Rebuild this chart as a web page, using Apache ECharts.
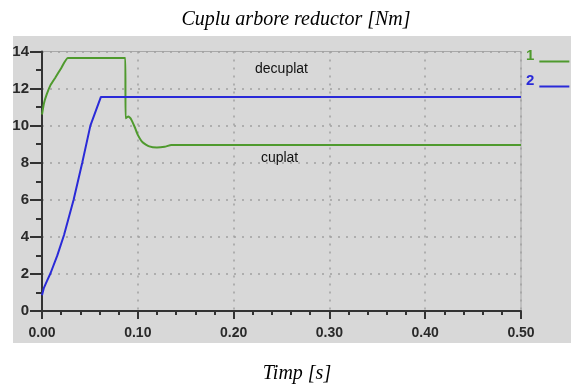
<!DOCTYPE html>
<html>
<head>
<meta charset="utf-8">
<script src="https://cdn.jsdelivr.net/npm/echarts@6/dist/echarts.min.js"></script>
<style>html,body{margin:0;padding:0;background:#fff;}#c{width:571px;height:388px;}</style>
</head>
<body>
<div id="c"></div>
<script>
// time [s] and torque [Nm]
const time1 = [0, 0.002, 0.005, 0.009, 0.014, 0.020, 0.027, 0.087, 0.0872, 0.090, 0.093, 0.097, 0.100, 0.105, 0.112, 0.120, 0.128, 0.135, 0.50];
const torque1 = [10.6, 11.2, 11.7, 12.2, 12.6, 13.1, 13.65, 13.65, 10.4, 10.5, 10.35, 9.9, 9.5, 9.1, 8.88, 8.82, 8.86, 8.95, 8.95];
const time2 = [0, 0.002, 0.005, 0.009, 0.016, 0.023, 0.033, 0.042, 0.0505, 0.0615, 0.50];
const torque2 = [0.85, 1.25, 1.6, 2.05, 3.0, 4.1, 6.0, 8.0, 10.0, 11.55, 11.55];
const seriesNames = ['1', '2'];
const xTicks = [0, 0.1, 0.2, 0.3, 0.4, 0.5];
const yTicks = [0, 2, 4, 6, 8, 10, 12, 14];
const notes = [{text: 'decuplat', t: 0.250, v: 13.03}, {text: 'cuplat', t: 0.248, v: 8.24}];

const zip = (a, b) => a.map((x, i) => [x, b[i]]);
const chart = echarts.init(document.getElementById('c'));
const labelFont = {fontFamily: 'Liberation Sans', fontWeight: 'bold', color: '#2a2a2a'};
const legendIcon = 'path://M0,0L0.01,0L0.01,0.01Z M0,12L30,12L30,14L0,14Z';
chart.setOption({
  animation: false,
  backgroundColor: '#ffffff',
  title: [
    {text: 'Cuplu arbore reductor [Nm]', left: 291, top: 5, textAlign: 'center',
     textStyle: {fontFamily: 'Liberation Serif', fontStyle: 'italic', fontWeight: 'normal', fontSize: 20, color: '#000'}},
    {text: 'Timp [s]', left: 292, top: 359, textAlign: 'center',
     textStyle: {fontFamily: 'Liberation Serif', fontStyle: 'italic', fontWeight: 'normal', fontSize: 20, color: '#000'}}
  ],
  graphic: [{type: 'rect', z: -10, shape: {x: 13, y: 36, width: 558, height: 307}, style: {fill: '#d8d8d8'}}],
  grid: {left: 42, right: 50, top: 51.5, bottom: 77, show: true, borderColor: '#a8a8a8', borderWidth: 1, backgroundColor: 'transparent'},
  legend: {
    orient: 'vertical', left: 526, top: 48, align: 'right', itemWidth: 30, itemHeight: 14, itemGap: 10,
    icon: legendIcon, padding: 0,
    data: seriesNames.map((n, i) => ({name: n, icon: legendIcon, textStyle: {color: i ? '#2a2ad8' : '#4f9a2e', fontFamily: 'Liberation Sans', fontWeight: 'bold', fontSize: 15}}))
  },
  xAxis: {
    type: 'value', min: xTicks[0], max: xTicks[xTicks.length - 1], interval: 0.1,
    axisLine: {lineStyle: {color: '#333', width: 2}},
    axisTick: {length: 8, lineStyle: {color: '#333', width: 2}},
    minorTick: {show: true, splitNumber: 5, length: 4, lineStyle: {color: '#333', width: 2}},
    axisLabel: Object.assign({margin: 15, fontSize: 14, formatter: v => v.toFixed(2)}, labelFont),
    splitLine: {show: true, lineStyle: {color: '#a0a0a0', type: [2, 6], width: 1.5}}
  },
  yAxis: {
    type: 'value', min: yTicks[0], max: yTicks[yTicks.length - 1], interval: 2,
    axisLine: {show: true, lineStyle: {color: '#333', width: 2}},
    axisTick: {show: true, length: 12, lineStyle: {color: '#333', width: 2}},
    minorTick: {show: true, splitNumber: 2, length: 6, lineStyle: {color: '#333', width: 2}},
    axisLabel: Object.assign({margin: 13, fontSize: 15}, labelFont),
    splitLine: {show: true, lineStyle: {color: '#a0a0a0', type: [2, 6], width: 1.5}}
  },
  series: [
    {name: seriesNames[0], type: 'line', data: zip(time1, torque1), symbol: 'none', smooth: 0.15,
     lineStyle: {color: '#4f9a2e', width: 2}, itemStyle: {color: '#4f9a2e'},
     markPoint: {symbol: 'circle', symbolSize: 0, silent: true,
       data: notes.map(n => ({coord: [n.t, n.v], value: n.text,
         label: {show: true, formatter: n.text, position: 'inside', fontFamily: 'Liberation Sans', fontSize: 14, color: '#111'}}))}},
    {name: seriesNames[1], type: 'line', data: zip(time2, torque2), symbol: 'none',
     lineStyle: {color: '#2a2ad8', width: 2}, itemStyle: {color: '#2a2ad8'}}
  ]
});
</script>
</body>
</html>
